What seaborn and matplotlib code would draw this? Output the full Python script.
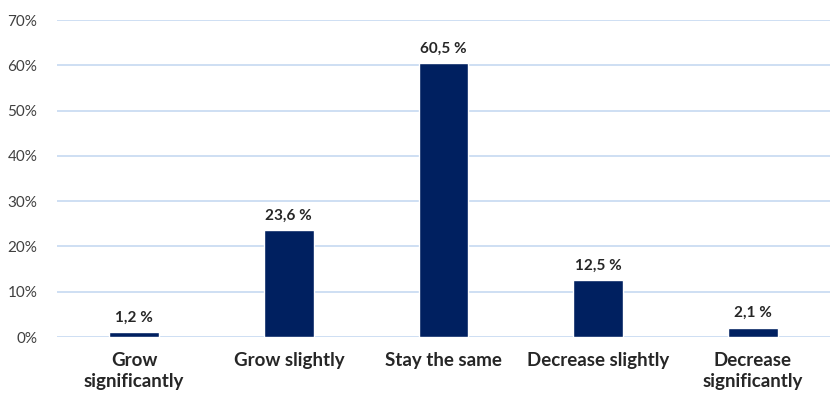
import matplotlib
matplotlib.use("Agg")
import matplotlib.pyplot as plt
import seaborn as sns
import pandas as pd

categories = ["Grow\nsignificantly", "Grow slightly", "Stay the same",
              "Decrease slightly", "Decrease\nsignificantly"]
values = [1.2, 23.6, 60.5, 12.5, 2.1]
value_labels = ["1,2 %", "23,6 %", "60,5 %", "12,5 %", "2,1 %"]
y_ticks = [0, 10, 20, 30, 40, 50, 60, 70]

sns.set_theme(style="white")
plt.rcParams['font.family'] = ['Lato', 'DejaVu Sans']

df = pd.DataFrame({"category": categories, "value": values})

fig = plt.figure(figsize=(8.36, 4.12), dpi=100)
ax = fig.add_axes([0.068, 0.182, 0.925, 0.769])

sns.barplot(data=df, x="category", y="value", color="#002060",
            saturation=1, width=0.32, ax=ax, zorder=3)

ax.set_ylim(0, 70)
ax.set_yticks(y_ticks)
ax.set_yticklabels([f"{t}%" for t in y_ticks], color="#404040", fontsize=11)
ax.yaxis.grid(True, color="#c6d9f1", linewidth=1.2, zorder=0)
ax.set_axisbelow(True)
for s in ax.spines.values():
    s.set_visible(False)
ax.tick_params(axis="x", length=0, pad=11)
ax.tick_params(axis="y", length=0, pad=14)
ax.set_xlabel("")
ax.set_ylabel("")
for lbl in ax.get_xticklabels():
    lbl.set_fontweight("bold")
    lbl.set_fontsize(13.5)
    lbl.set_color("#262626")
    lbl.set_linespacing(1.25)

for i, (v, t) in enumerate(zip(values, value_labels)):
    ax.text(i, v + 1.6, t, ha="center", va="bottom", fontsize=11,
            fontweight="bold", color="#262626")

fig.savefig("out.png", dpi=100)
